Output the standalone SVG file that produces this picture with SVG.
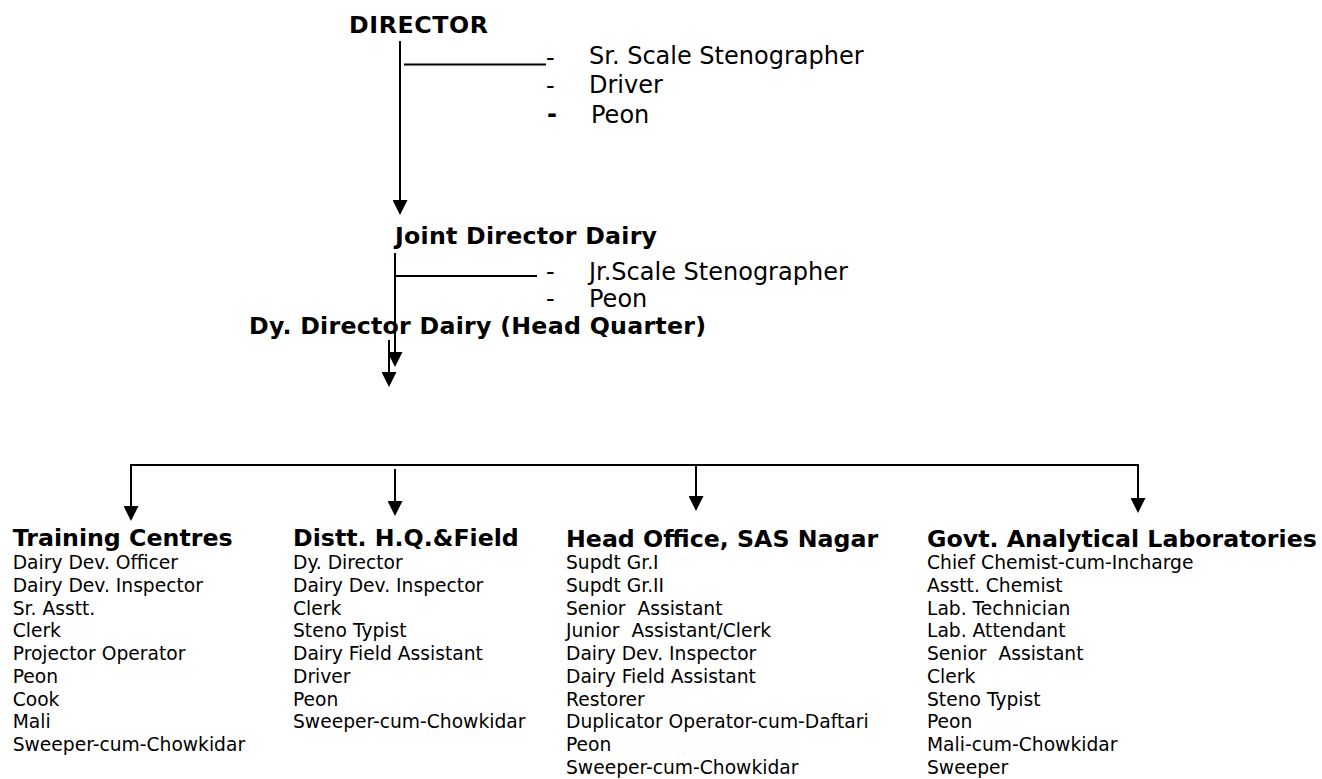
<svg xmlns="http://www.w3.org/2000/svg" width="1322" height="779" viewBox="0 0 1322 779">
<defs>
<marker id="ah" markerUnits="userSpaceOnUse" markerWidth="15" markerHeight="15" viewBox="0 0 15 15" refX="11" refY="7.5" orient="auto"><path d="M0,0 L15,7.5 L0,15 z" fill="#000"/></marker>
</defs>
<style>
text{font-family:"DejaVu Sans",Verdana,sans-serif;fill:#000;white-space:pre}
.b{font-weight:bold;font-size:23.7px}
.t{font-size:24px}
.l{font-size:18.7px}
.c{stroke:#000;stroke-width:2;fill:none}
.a{marker-end:url(#ah)}
</style>
<rect width="1322" height="779" fill="#fff"/>
<g id="connectors">
<path class="c a" d="M400,41 V211"/>
<path class="c" d="M404,64.5 H546"/>
<path class="c a" d="M395,253 V363"/>
<path class="c" d="M395,276 H537"/>
<path class="c a" d="M389,340 V383"/>
<path class="c" d="M131,465 H1138"/>
<path class="c a" d="M131,464 V517"/>
<path class="c a" d="M395,469 V512"/>
<path class="c a" d="M696,465 V507"/>
<path class="c a" d="M1138,464 V509"/>
</g>
<g id="director"><text class="b" x="349" y="33" textLength="139" lengthAdjust="spacing">DIRECTOR</text></g>
<g id="director-staff">
<text class="t" x="546" y="66">-</text><text class="t" x="589" y="64">Sr. Scale Stenographer</text>
<text class="t" x="546" y="94">-</text><text class="t" x="589" y="93">Driver</text>
<text class="t" x="547" y="122" font-weight="bold">-</text><text class="t" x="591" y="123">Peon</text>
</g>
<g id="joint-director"><text class="b" x="395" y="244" textLength="262" lengthAdjust="spacing">Joint Director Dairy</text></g>
<g id="joint-director-staff">
<text class="t" x="546" y="279.5">-</text><text class="t" x="589" y="279.5">Jr.Scale Stenographer</text>
<text class="t" x="546" y="307">-</text><text class="t" x="589" y="307">Peon</text>
</g>
<g id="dy-director"><text class="b" x="249" y="334" textLength="457" lengthAdjust="spacing">Dy. Director Dairy (Head Quarter)</text></g>
<g id="training-centres">
<text class="b" x="12.7" y="546">Training Centres</text>
<text class="l" x="12.7" y="569">Dairy Dev. Officer<tspan x="12.7" dy="22.75">Dairy Dev. Inspector</tspan><tspan x="12.7" dy="22.75">Sr. Asstt.</tspan><tspan x="12.7" dy="22.75">Clerk</tspan><tspan x="12.7" dy="22.75">Projector Operator</tspan><tspan x="12.7" dy="22.75">Peon</tspan><tspan x="12.7" dy="22.75">Cook</tspan><tspan x="12.7" dy="22.75">Mali</tspan><tspan x="12.7" dy="22.75">Sweeper-cum-Chowkidar</tspan></text>
</g>
<g id="distt-hq-field">
<text class="b" x="293" y="546">Distt. H.Q.&amp;Field</text>
<text class="l" x="293" y="569">Dy. Director<tspan x="293" dy="22.75">Dairy Dev. Inspector</tspan><tspan x="293" dy="22.75">Clerk</tspan><tspan x="293" dy="22.75">Steno Typist</tspan><tspan x="293" dy="22.75">Dairy Field Assistant</tspan><tspan x="293" dy="22.75">Driver</tspan><tspan x="293" dy="22.75">Peon</tspan><tspan x="293" dy="22.75">Sweeper-cum-Chowkidar</tspan></text>
</g>
<g id="head-office">
<text class="b" x="566" y="547">Head Office, SAS Nagar</text>
<text class="l" x="566" y="569">Supdt Gr.I<tspan x="566" dy="22.75">Supdt Gr.II</tspan><tspan x="566" dy="22.75">Senior  Assistant</tspan><tspan x="566" dy="22.75">Junior  Assistant/Clerk</tspan><tspan x="566" dy="22.75">Dairy Dev. Inspector</tspan><tspan x="566" dy="22.75">Dairy Field Assistant</tspan><tspan x="566" dy="22.75">Restorer</tspan><tspan x="566" dy="22.75">Duplicator Operator-cum-Daftari</tspan><tspan x="566" dy="22.75">Peon</tspan><tspan x="566" dy="22.75">Sweeper-cum-Chowkidar</tspan></text>
</g>
<g id="analytical-labs">
<text class="b" x="927" y="547">Govt. Analytical Laboratories</text>
<text class="l" x="927" y="569">Chief Chemist-cum-Incharge<tspan x="927" dy="22.75">Asstt. Chemist</tspan><tspan x="927" dy="22.75">Lab. Technician</tspan><tspan x="927" dy="22.75">Lab. Attendant</tspan><tspan x="927" dy="22.75">Senior  Assistant</tspan><tspan x="927" dy="22.75">Clerk</tspan><tspan x="927" dy="22.75">Steno Typist</tspan><tspan x="927" dy="22.75">Peon</tspan><tspan x="927" dy="22.75">Mali-cum-Chowkidar</tspan><tspan x="927" dy="22.75">Sweeper</tspan></text>
</g>
</svg>
